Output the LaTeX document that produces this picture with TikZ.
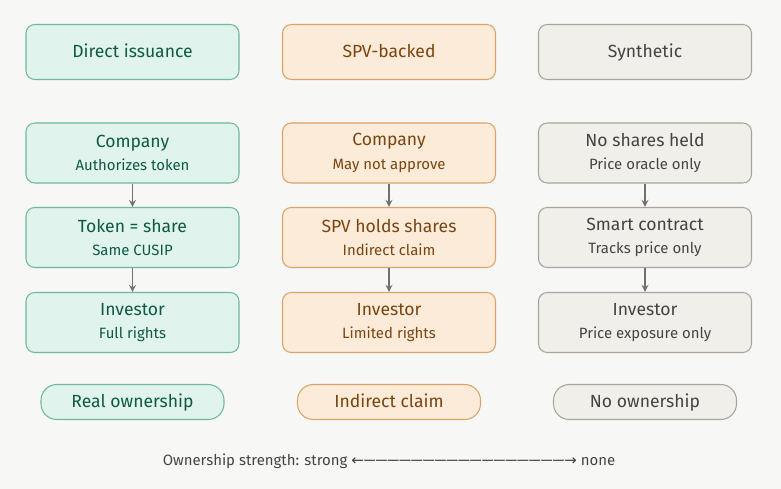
\documentclass[tikz,border=0pt]{standalone}
\usepackage{fontspec}
\setmainfont{Fira Sans}
\newfontfamily\symfont{DejaVu Sans}
\usetikzlibrary{positioning}
\definecolor{bgcol}{HTML}{F7F7F5}
\definecolor{grfill}{HTML}{E0F3EC}
\definecolor{grline}{HTML}{6FB89C}
\definecolor{grtext}{HTML}{0F5A45}
\definecolor{orfill}{HTML}{FBEBD8}
\definecolor{orline}{HTML}{D9A36A}
\definecolor{ortext}{HTML}{7A4510}
\definecolor{gyfill}{HTML}{F1EFEA}
\definecolor{gyline}{HTML}{A8A49C}
\definecolor{gytext}{HTML}{444444}
\definecolor{arrcol}{HTML}{707070}

\begin{document}
\begin{tikzpicture}[
    x=0.02cm, y=-0.02cm,
    box/.style={draw, rounded corners=5pt, minimum width=213*0.02cm, line width=0.6pt, align=center},
    head/.style={box, minimum height=55*0.02cm, text height=1.6ex, text depth=0.4ex, font=\fontsize{10}{11}\selectfont},
    stage/.style={box, minimum height=60*0.02cm, font=\fontsize{10}{12.5}\selectfont},
    pill/.style={draw, rounded corners=9pt, minimum width=183*0.02cm, minimum height=35*0.02cm, text height=1.6ex, text depth=0.4ex, line width=0.6pt, font=\fontsize{10}{11}\selectfont},
    green/.style={fill=grfill, draw=grline, text=grtext},
    orange/.style={fill=orfill, draw=orline, text=ortext},
    gray/.style={fill=gyfill, draw=gyline, text=gytext},
    flow/.style={draw=arrcol, line width=0.8pt, -stealth}
    ]
    \newcommand\subtxt[1]{{\fontsize{8.5}{10}\selectfont #1}}

    % Background
    \fill[bgcol] (0,0) rectangle (781,489);
    \useasboundingbox (0,0) rectangle (781,489);

    % Column heads
    \node[head, green] (h1) at (132.5,52) {Direct issuance};
    \node[head, orange] (h2) at (389,52) {SPV-backed};
    \node[head, gray] (h3) at (645,52) {Synthetic};

    % Direct issuance
    \node[stage, green] (a1) at (132.5,153) {Company\\[1pt]\subtxt{Authorizes token}};
    \node[stage, green] (a2) at (132.5,237.5) {Token = share\\[1pt]\subtxt{Same CUSIP}};
    \node[stage, green] (a3) at (132.5,322.5) {Investor\\[1pt]\subtxt{Full rights}};

    % SPV-backed
    \node[stage, orange] (b1) at (389,153) {Company\\[1pt]\subtxt{May not approve}};
    \node[stage, orange] (b2) at (389,237.5) {SPV holds shares\\[1pt]\subtxt{Indirect claim}};
    \node[stage, orange] (b3) at (389,322.5) {Investor\\[1pt]\subtxt{Limited rights}};

    % Synthetic
    \node[stage, gray] (c1) at (645,153) {No shares held\\[1pt]\subtxt{Price oracle only}};
    \node[stage, gray] (c2) at (645,237.5) {Smart contract\\[1pt]\subtxt{Tracks price only}};
    \node[stage, gray] (c3) at (645,322.5) {Investor\\[1pt]\subtxt{Price exposure only}};

    % Connections
    \foreach \col in {a, b, c} {
        \draw[flow] (\col1) -- (\col2);
        \draw[flow] (\col2) -- (\col3);
    }

    % Outcomes
    \node[pill, green] (p1) at (132.5,402) {Real ownership};
    \node[pill, orange] (p2) at (389,402) {Indirect claim};
    \node[pill, gray] (p3) at (645,402) {No ownership};

    % Scale
    \node[text=gytext, font=\fontsize{8.5}{10}\selectfont] (scale) at (389,461)
        {Ownership strength: strong {\symfont←}—————————————————{\symfont→} none};

\end{tikzpicture}
\end{document}
